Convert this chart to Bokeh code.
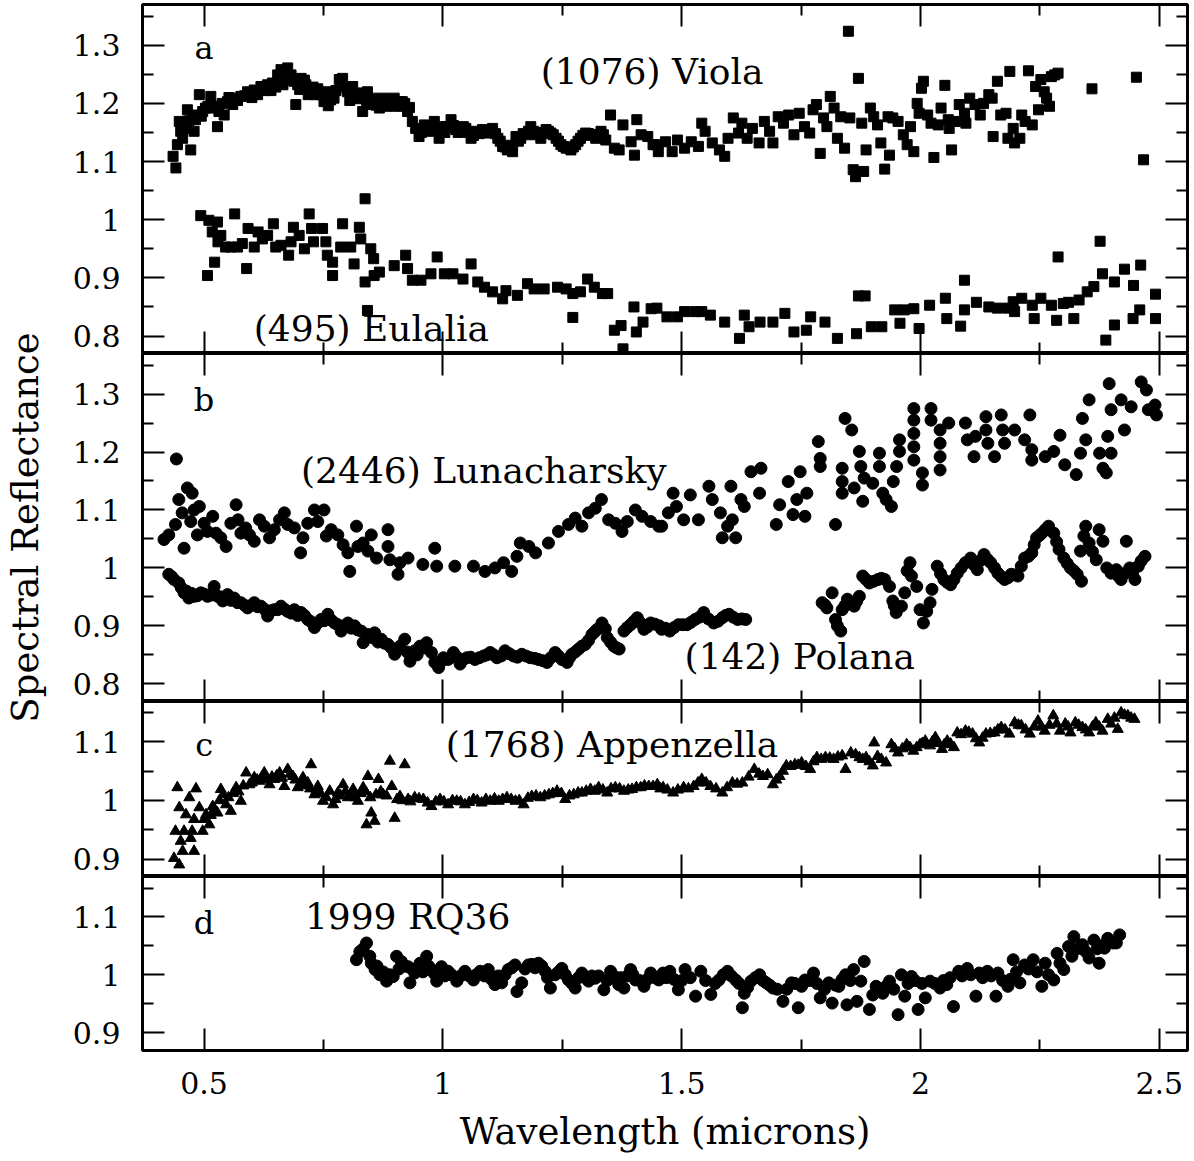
from bokeh.plotting import figure
from bokeh.layouts import column, row
from bokeh.models import Range1d, FixedTicker, LinearAxis, Label
from bokeh.embed import file_html
from bokeh.resources import INLINE

FONT = "DejaVu Serif"

# ---------------- data (wavelength in microns, spectral reflectance) ----------------
VIOLA = [
    (0.435, 1.109), (0.441, 1.089), (0.444, 1.129), (0.448, 1.169), (0.451, 1.152), (0.455, 1.140), (0.458, 1.165),
    (0.462, 1.157), (0.465, 1.189), (0.468, 1.170), (0.472, 1.120), (0.476, 1.175), (0.479, 1.152), (0.482, 1.172),
    (0.486, 1.180), (0.490, 1.215), (0.494, 1.178), (0.497, 1.186), (0.503, 1.192), (0.508, 1.195), (0.514, 1.212),
    (0.517, 1.192), (0.525, 1.195), (0.528, 1.160), (0.531, 1.186), (0.538, 1.200), (0.542, 1.180), (0.549, 1.203),
    (0.552, 1.210), (0.560, 1.198), (0.563, 1.209), (0.570, 1.205), (0.577, 1.212), (0.585, 1.213), (0.591, 1.220),
    (0.598, 1.218), (0.600, 1.210), (0.605, 1.223), (0.612, 1.215), (0.619, 1.229), (0.626, 1.222), (0.633, 1.232),
    (0.640, 1.222), (0.643, 1.235), (0.650, 1.228), (0.654, 1.249), (0.661, 1.258), (0.665, 1.232), (0.668, 1.241),
    (0.675, 1.261), (0.682, 1.249), (0.688, 1.238), (0.692, 1.198), (0.696, 1.232), (0.700, 1.224), (0.703, 1.243),
    (0.710, 1.240), (0.713, 1.232), (0.718, 1.215), (0.723, 1.223), (0.728, 1.228), (0.734, 1.215), (0.738, 1.225),
    (0.744, 1.215), (0.751, 1.203), (0.756, 1.220), (0.760, 1.196), (0.765, 1.206), (0.772, 1.209), (0.776, 1.222),
    (0.783, 1.241), (0.790, 1.243), (0.795, 1.228), (0.800, 1.220), (0.805, 1.205), (0.811, 1.229), (0.815, 1.210),
    (0.821, 1.218), (0.826, 1.208), (0.832, 1.186), (0.836, 1.212), (0.840, 1.205), (0.842, 1.220), (0.849, 1.198),
    (0.856, 1.209), (0.860, 1.197), (0.867, 1.192), (0.870, 1.202), (0.877, 1.209), (0.880, 1.195), (0.888, 1.198),
    (0.893, 1.205), (0.898, 1.209), (0.900, 1.195), (0.905, 1.196), (0.909, 1.203), (0.915, 1.203), (0.919, 1.195),
    (0.920, 1.200), (0.926, 1.186), (0.930, 1.193), (0.936, 1.169), (0.943, 1.157), (0.950, 1.143), (0.955, 1.150),
    (0.961, 1.163), (0.966, 1.160), (0.971, 1.155), (0.977, 1.152), (0.982, 1.169), (0.988, 1.155), (0.992, 1.140),
    (0.999, 1.160), (1.004, 1.150), (1.010, 1.160), (1.017, 1.172), (1.022, 1.162), (1.027, 1.155), (1.032, 1.150),
    (1.038, 1.152), (1.043, 1.160), (1.048, 1.157), (1.054, 1.150), (1.059, 1.140), (1.064, 1.145), (1.069, 1.152),
    (1.076, 1.148), (1.083, 1.155), (1.089, 1.152), (1.094, 1.149), (1.099, 1.150), (1.104, 1.157), (1.110, 1.148),
    (1.115, 1.140), (1.120, 1.135), (1.125, 1.126), (1.130, 1.125), (1.135, 1.120), (1.140, 1.128), (1.146, 1.117),
    (1.153, 1.143), (1.158, 1.135), (1.163, 1.140), (1.168, 1.148), (1.174, 1.146), (1.179, 1.152), (1.184, 1.160),
    (1.190, 1.152), (1.195, 1.146), (1.200, 1.150), (1.205, 1.140), (1.211, 1.148), (1.216, 1.155), (1.221, 1.152),
    (1.226, 1.149), (1.231, 1.146), (1.237, 1.140), (1.242, 1.135), (1.247, 1.129), (1.252, 1.126), (1.258, 1.123),
    (1.263, 1.125), (1.268, 1.120), (1.273, 1.125), (1.278, 1.129), (1.283, 1.135), (1.288, 1.140), (1.293, 1.145),
    (1.299, 1.149), (1.305, 1.148), (1.310, 1.146), (1.315, 1.145), (1.320, 1.140), (1.326, 1.146), (1.331, 1.152),
    (1.336, 1.146), (1.341, 1.137), (1.351, 1.180), (1.359, 1.123), (1.369, 1.120), (1.377, 1.163), (1.394, 1.134),
    (1.401, 1.111), (1.406, 1.172), (1.415, 1.146), (1.429, 1.143), (1.440, 1.129), (1.446, 1.129), (1.451, 1.117),
    (1.466, 1.134), (1.480, 1.117), (1.491, 1.137), (1.506, 1.123), (1.520, 1.134), (1.535, 1.126), (1.542, 1.166),
    (1.549, 1.152), (1.564, 1.132), (1.579, 1.120), (1.590, 1.109), (1.597, 1.140), (1.608, 1.175), (1.619, 1.149),
    (1.626, 1.166), (1.637, 1.140), (1.648, 1.157), (1.662, 1.132), (1.673, 1.169), (1.684, 1.152), (1.691, 1.132),
    (1.702, 1.177), (1.713, 1.166), (1.724, 1.180), (1.735, 1.146), (1.746, 1.183), (1.757, 1.160), (1.768, 1.149),
    (1.775, 1.189), (1.782, 1.198), (1.790, 1.114), (1.797, 1.175), (1.804, 1.160), (1.811, 1.212), (1.819, 1.192),
    (1.826, 1.140), (1.833, 1.177), (1.841, 1.123), (1.849, 1.324), (1.852, 1.175), (1.859, 1.086), (1.864, 1.074),
    (1.870, 1.243), (1.877, 1.166), (1.881, 1.083), (1.886, 1.120), (1.895, 1.192), (1.902, 1.177), (1.910, 1.163),
    (1.917, 1.132), (1.925, 1.087), (1.932, 1.177), (1.935, 1.111), (1.942, 1.175), (1.953, 1.169), (1.964, 1.146),
    (1.972, 1.129), (1.979, 1.160), (1.986, 1.117), (1.993, 1.200), (1.997, 1.183), (2.002, 1.226), (2.006, 1.238),
    (2.015, 1.180), (2.022, 1.166), (2.028, 1.107), (2.037, 1.163), (2.043, 1.192), (2.051, 1.231), (2.058, 1.172),
    (2.060, 1.157), (2.065, 1.120), (2.073, 1.169), (2.081, 1.198), (2.092, 1.183), (2.095, 1.166), (2.103, 1.209),
    (2.114, 1.198), (2.125, 1.180), (2.132, 1.200), (2.143, 1.215), (2.150, 1.209), (2.152, 1.143), (2.161, 1.238),
    (2.168, 1.180), (2.179, 1.183), (2.183, 1.140), (2.187, 1.255), (2.194, 1.157), (2.197, 1.132), (2.208, 1.140),
    (2.212, 1.180), (2.219, 1.169), (2.226, 1.256), (2.234, 1.163), (2.241, 1.229), (2.247, 1.189), (2.252, 1.241),
    (2.259, 1.220), (2.264, 1.209), (2.270, 1.195), (2.274, 1.246), (2.281, 1.249), (2.288, 1.252), (2.359, 1.225),
    (2.452, 1.245), (2.467, 1.103),
]

EULALIA = [
    (0.493, 1.007), (0.507, 0.904), (0.510, 0.999), (0.517, 0.979), (0.522, 0.927), (0.528, 0.996), (0.529, 0.962),
    (0.535, 0.973), (0.545, 0.953), (0.556, 0.953), (0.564, 1.010), (0.570, 0.953), (0.580, 0.959), (0.589, 0.916),
    (0.592, 0.985), (0.605, 0.953), (0.613, 0.979), (0.622, 0.967), (0.633, 0.973), (0.645, 0.993), (0.650, 0.953),
    (0.661, 0.956), (0.677, 0.939), (0.682, 0.962), (0.687, 0.987), (0.699, 0.973), (0.710, 0.950), (0.720, 1.010),
    (0.725, 0.985), (0.729, 0.962), (0.748, 0.985), (0.755, 0.962), (0.758, 0.939), (0.769, 0.927), (0.769, 0.904),
    (0.786, 0.953), (0.790, 0.993), (0.807, 0.953), (0.814, 0.924), (0.825, 0.987), (0.828, 0.967), (0.837, 1.036),
    (0.837, 0.893), (0.842, 0.844), (0.849, 0.950), (0.855, 0.933), (0.856, 0.904), (0.867, 0.910), (0.898, 0.921),
    (0.922, 0.939), (0.926, 0.916), (0.936, 0.896), (0.954, 0.896), (0.975, 0.907), (0.988, 0.936), (1.003, 0.907),
    (1.021, 0.907), (1.042, 0.898), (1.059, 0.924), (1.073, 0.893), (1.087, 0.884), (1.104, 0.876), (1.125, 0.864),
    (1.132, 0.878), (1.156, 0.870), (1.177, 0.890), (1.191, 0.881), (1.212, 0.881), (1.240, 0.884), (1.258, 0.881),
    (1.272, 0.873), (1.272, 0.832), (1.288, 0.876), (1.303, 0.898), (1.317, 0.884), (1.334, 0.873), (1.345, 0.873),
    (1.359, 0.810), (1.373, 0.818), (1.377, 0.778), (1.400, 0.850), (1.405, 0.807), (1.419, 0.824), (1.436, 0.847),
    (1.448, 0.848), (1.469, 0.833), (1.491, 0.833), (1.506, 0.842), (1.528, 0.842), (1.542, 0.842), (1.560, 0.836),
    (1.590, 0.824), (1.621, 0.796), (1.631, 0.836), (1.641, 0.816), (1.664, 0.824), (1.691, 0.824), (1.716, 0.839),
    (1.735, 0.807), (1.761, 0.810), (1.770, 0.833), (1.800, 0.824), (1.826, 0.796), (1.866, 0.804), (1.870, 0.869),
    (1.884, 0.869), (1.897, 0.816), (1.919, 0.816), (1.946, 0.845), (1.957, 0.822), (1.966, 0.845), (1.986, 0.847),
    (1.997, 0.813), (2.019, 0.853), (2.052, 0.865), (2.055, 0.830), (2.084, 0.817), (2.092, 0.845), (2.092, 0.896),
    (2.117, 0.858), (2.143, 0.850), (2.161, 0.848), (2.183, 0.848), (2.194, 0.859), (2.197, 0.842), (2.212, 0.865),
    (2.234, 0.853), (2.238, 0.830), (2.252, 0.865), (2.274, 0.853), (2.285, 0.827), (2.288, 0.936), (2.299, 0.856),
    (2.310, 0.858), (2.321, 0.830), (2.332, 0.862), (2.349, 0.876), (2.363, 0.885), (2.376, 0.963), (2.381, 0.907),
    (2.388, 0.793), (2.406, 0.893), (2.406, 0.819), (2.427, 0.915), (2.445, 0.830), (2.446, 0.887), (2.459, 0.845),
    (2.461, 0.922), (2.492, 0.872), (2.492, 0.830),
]

LUNACHARSKY = [
    (0.416, 1.049), (0.426, 1.057), (0.440, 1.075), (0.442, 1.188), (0.447, 1.118), (0.454, 1.095), (0.458, 1.034),
    (0.465, 1.138), (0.472, 1.080), (0.475, 1.129), (0.479, 1.100), (0.486, 1.057), (0.490, 1.106), (0.500, 1.077),
    (0.507, 1.063), (0.518, 1.089), (0.525, 1.060), (0.535, 1.052), (0.546, 1.037), (0.556, 1.077), (0.567, 1.109),
    (0.571, 1.083), (0.577, 1.060), (0.587, 1.069), (0.595, 1.057), (0.605, 1.046), (0.616, 1.083), (0.626, 1.072),
    (0.637, 1.052), (0.647, 1.066), (0.658, 1.083), (0.668, 1.095), (0.675, 1.075), (0.689, 1.069), (0.702, 1.026),
    (0.707, 1.052), (0.717, 1.077), (0.731, 1.100), (0.738, 1.080), (0.751, 1.100), (0.756, 1.055), (0.766, 1.066),
    (0.780, 1.057), (0.791, 1.040), (0.801, 1.026), (0.805, 0.994), (0.819, 1.072), (0.822, 1.037), (0.833, 1.043),
    (0.843, 1.029), (0.850, 1.057), (0.861, 1.017), (0.885, 1.066), (0.885, 1.037), (0.889, 1.014), (0.906, 0.989),
    (0.910, 1.009), (0.927, 1.017), (0.958, 1.006), (0.983, 1.034), (0.987, 1.003), (1.025, 1.003), (1.064, 1.003),
    (1.088, 0.994), (1.109, 1.000), (1.127, 1.009), (1.144, 0.994), (1.155, 1.020), (1.162, 1.043), (1.180, 1.037),
    (1.194, 1.026), (1.221, 1.043), (1.242, 1.063), (1.263, 1.075), (1.277, 1.086), (1.291, 1.072), (1.305, 1.095),
    (1.319, 1.103), (1.332, 1.118), (1.347, 1.083), (1.361, 1.077), (1.375, 1.063), (1.386, 1.080), (1.403, 1.100),
    (1.417, 1.089), (1.435, 1.080), (1.452, 1.072), (1.458, 1.072), (1.472, 1.095), (1.482, 1.129), (1.489, 1.106),
    (1.504, 1.083), (1.518, 1.126), (1.535, 1.083), (1.557, 1.141), (1.564, 1.118), (1.581, 1.095), (1.585, 1.052),
    (1.596, 1.072), (1.603, 1.141), (1.606, 1.083), (1.613, 1.052), (1.624, 1.118), (1.631, 1.106), (1.645, 1.166),
    (1.663, 1.129), (1.666, 1.172), (1.698, 1.075), (1.705, 1.109), (1.723, 1.149), (1.733, 1.092), (1.741, 1.118),
    (1.748, 1.166), (1.758, 1.089), (1.762, 1.129), (1.786, 1.218), (1.790, 1.189), (1.790, 1.175), (1.822, 1.075),
    (1.836, 1.172), (1.836, 1.149), (1.836, 1.129), (1.842, 1.258), (1.856, 1.238), (1.861, 1.138), (1.872, 1.201),
    (1.875, 1.175), (1.879, 1.115), (1.882, 1.155), (1.900, 1.146), (1.914, 1.198), (1.914, 1.175), (1.921, 1.129),
    (1.928, 1.118), (1.939, 1.106), (1.943, 1.149), (1.950, 1.175), (1.956, 1.221), (1.956, 1.201), (1.986, 1.275),
    (1.986, 1.255), (1.986, 1.232), (1.986, 1.209), (1.986, 1.186), (2.004, 1.164), (2.004, 1.143), (2.022, 1.275),
    (2.022, 1.255), (2.041, 1.238), (2.041, 1.215), (2.041, 1.192), (2.041, 1.169), (2.059, 1.250), (2.094, 1.250),
    (2.098, 1.221), (2.112, 1.192), (2.115, 1.227), (2.137, 1.261), (2.137, 1.238), (2.141, 1.215), (2.155, 1.192),
    (2.169, 1.264), (2.172, 1.238), (2.176, 1.215), (2.197, 1.238), (2.218, 1.221), (2.229, 1.264), (2.233, 1.204),
    (2.233, 1.186), (2.261, 1.192), (2.279, 1.201), (2.292, 1.229), (2.302, 1.178), (2.326, 1.161), (2.335, 1.198),
    (2.339, 1.258), (2.346, 1.221), (2.353, 1.290), (2.375, 1.198), (2.382, 1.172), (2.389, 1.164), (2.392, 1.227),
    (2.395, 1.318), (2.399, 1.273), (2.399, 1.198), (2.420, 1.290), (2.427, 1.238), (2.441, 1.278), (2.462, 1.321),
    (2.473, 1.307), (2.477, 1.273), (2.491, 1.281), (2.494, 1.264),
]

POLANA = [
    (0.426, 0.989), (0.432, 0.985), (0.437, 0.980), (0.447, 0.974), (0.452, 0.966), (0.458, 0.957), (0.463, 0.960),
    (0.468, 0.948), (0.474, 0.956), (0.479, 0.951), (0.486, 0.952), (0.493, 0.957), (0.500, 0.955), (0.507, 0.951),
    (0.514, 0.953), (0.521, 0.968), (0.528, 0.951), (0.535, 0.950), (0.539, 0.943), (0.549, 0.954), (0.556, 0.944),
    (0.563, 0.948), (0.570, 0.940), (0.577, 0.940), (0.584, 0.936), (0.591, 0.931), (0.598, 0.935), (0.605, 0.940),
    (0.612, 0.933), (0.619, 0.934), (0.626, 0.929), (0.633, 0.917), (0.640, 0.926), (0.647, 0.928), (0.654, 0.928),
    (0.661, 0.934), (0.668, 0.929), (0.675, 0.925), (0.682, 0.922), (0.689, 0.928), (0.696, 0.918), (0.703, 0.923),
    (0.710, 0.918), (0.717, 0.911), (0.724, 0.907), (0.731, 0.897), (0.738, 0.905), (0.745, 0.911), (0.752, 0.909),
    (0.759, 0.920), (0.766, 0.910), (0.773, 0.905), (0.780, 0.902), (0.787, 0.891), (0.794, 0.900), (0.801, 0.905),
    (0.808, 0.896), (0.815, 0.900), (0.822, 0.893), (0.829, 0.891), (0.833, 0.871), (0.843, 0.885), (0.850, 0.880),
    (0.857, 0.888), (0.864, 0.872), (0.871, 0.877), (0.878, 0.870), (0.885, 0.868), (0.892, 0.862), (0.899, 0.851),
    (0.905, 0.858), (0.910, 0.865), (0.920, 0.877), (0.925, 0.855), (0.931, 0.839), (0.941, 0.857), (0.946, 0.850),
    (0.952, 0.865), (0.960, 0.862), (0.966, 0.871), (0.976, 0.854), (0.983, 0.837), (0.991, 0.828), (0.996, 0.838),
    (1.001, 0.845), (1.011, 0.842), (1.016, 0.845), (1.022, 0.854), (1.030, 0.846), (1.036, 0.834), (1.043, 0.842),
    (1.050, 0.845), (1.058, 0.846), (1.067, 0.842), (1.076, 0.845), (1.085, 0.848), (1.092, 0.850), (1.099, 0.854),
    (1.106, 0.850), (1.113, 0.845), (1.122, 0.848), (1.130, 0.857), (1.139, 0.852), (1.148, 0.848), (1.156, 0.846),
    (1.165, 0.851), (1.174, 0.848), (1.183, 0.845), (1.192, 0.844), (1.200, 0.842), (1.209, 0.840), (1.218, 0.837),
    (1.226, 0.845), (1.235, 0.854), (1.242, 0.848), (1.249, 0.842), (1.260, 0.837), (1.265, 0.845), (1.270, 0.851),
    (1.277, 0.855), (1.284, 0.860), (1.291, 0.865), (1.298, 0.868), (1.305, 0.875), (1.312, 0.885), (1.318, 0.890),
    (1.323, 0.894), (1.333, 0.905), (1.340, 0.895), (1.344, 0.880), (1.351, 0.872), (1.358, 0.865), (1.364, 0.862),
    (1.369, 0.860), (1.379, 0.891), (1.386, 0.897), (1.393, 0.902), (1.400, 0.908), (1.407, 0.914), (1.414, 0.905),
    (1.421, 0.894), (1.428, 0.898), (1.435, 0.905), (1.444, 0.903), (1.453, 0.900), (1.458, 0.894), (1.466, 0.896),
    (1.475, 0.891), (1.484, 0.897), (1.493, 0.902), (1.502, 0.902), (1.511, 0.902), (1.519, 0.906), (1.528, 0.911),
    (1.537, 0.915), (1.546, 0.923), (1.556, 0.912), (1.567, 0.905), (1.576, 0.908), (1.585, 0.914), (1.592, 0.918),
    (1.599, 0.920), (1.608, 0.915), (1.617, 0.911), (1.626, 0.912), (1.634, 0.911),
    (1.794, 0.940), (1.800, 0.936), (1.804, 0.931), (1.815, 0.957), (1.822, 0.911), (1.826, 0.900), (1.833, 0.891),
    (1.836, 0.928), (1.842, 0.935), (1.847, 0.946), (1.861, 0.934), (1.866, 0.942), (1.872, 0.951), (1.879, 0.986),
    (1.886, 0.980), (1.893, 0.974), (1.902, 0.977), (1.911, 0.980), (1.918, 0.982), (1.925, 0.980), (1.935, 0.968),
    (1.942, 0.943), (1.945, 0.935), (1.949, 0.923), (1.960, 0.934), (1.967, 0.957), (1.972, 0.995), (1.978, 1.009),
    (1.981, 0.986), (1.992, 0.968), (1.999, 0.928), (2.006, 0.905), (2.013, 0.925), (2.020, 0.940), (2.024, 0.963),
    (2.035, 1.003), (2.042, 0.990), (2.049, 0.980), (2.056, 0.975), (2.063, 0.971), (2.070, 0.980), (2.077, 0.991),
    (2.085, 1.000), (2.094, 1.009), (2.105, 1.017), (2.112, 1.005), (2.119, 0.997), (2.126, 1.013), (2.133, 1.023),
    (2.140, 1.015), (2.147, 1.009), (2.155, 1.000), (2.162, 0.991), (2.169, 0.985), (2.176, 0.980), (2.183, 0.983),
    (2.190, 0.989), (2.197, 0.988), (2.204, 0.986), (2.211, 1.003), (2.218, 1.017), (2.226, 1.020), (2.233, 1.026),
    (2.238, 1.040), (2.243, 1.052), (2.249, 1.056), (2.254, 1.060), (2.261, 1.066), (2.268, 1.072), (2.279, 1.060),
    (2.285, 1.045), (2.290, 1.032), (2.300, 1.017), (2.307, 1.008), (2.314, 1.000), (2.321, 0.995), (2.328, 0.989),
    (2.337, 0.977), (2.335, 1.029), (2.342, 1.055), (2.346, 1.072), (2.353, 1.043), (2.360, 1.028), (2.368, 1.014),
    (2.374, 1.066), (2.382, 1.046), (2.390, 1.000), (2.399, 0.991), (2.404, 0.994), (2.410, 0.997), (2.415, 0.985),
    (2.420, 0.980), (2.426, 0.990), (2.431, 1.046), (2.438, 1.000), (2.444, 0.990), (2.449, 0.980), (2.456, 1.003),
    (2.462, 1.012), (2.470, 1.020),
]

APPENZELLA = [
    (0.437, 0.902), (0.448, 0.891), (0.440, 0.948), (0.444, 1.022), (0.448, 0.988), (0.451, 0.931), (0.455, 0.914),
    (0.458, 0.948), (0.462, 0.976), (0.469, 1.005), (0.472, 0.936), (0.475, 0.948), (0.479, 0.914), (0.479, 0.968),
    (0.483, 1.020), (0.490, 0.988), (0.497, 0.948), (0.500, 0.968), (0.504, 0.976), (0.511, 0.959), (0.514, 0.975),
    (0.518, 0.990), (0.522, 0.985), (0.528, 0.979), (0.532, 1.000), (0.535, 1.019), (0.540, 1.010), (0.546, 0.993),
    (0.551, 1.005), (0.556, 0.982), (0.561, 1.012), (0.567, 1.022), (0.572, 1.015), (0.577, 0.999), (0.582, 1.025),
    (0.588, 1.047), (0.595, 1.027), (0.600, 1.030), (0.605, 1.039), (0.611, 1.035), (0.616, 1.033), (0.621, 1.040),
    (0.626, 1.047), (0.631, 1.035), (0.637, 1.027), (0.642, 1.040), (0.647, 1.036), (0.652, 1.042), (0.658, 1.047),
    (0.663, 1.038), (0.668, 1.024), (0.675, 1.053), (0.680, 1.045), (0.686, 1.041), (0.691, 1.035), (0.696, 1.022),
    (0.702, 1.030), (0.707, 1.039), (0.712, 1.025), (0.717, 1.030), (0.722, 1.020), (0.724, 1.061), (0.731, 1.010),
    (0.734, 1.015), (0.738, 1.024), (0.744, 1.012), (0.749, 0.999), (0.756, 1.005), (0.763, 1.016), (0.770, 0.993),
    (0.775, 1.002), (0.780, 1.013), (0.786, 1.008), (0.791, 1.027), (0.796, 1.015), (0.801, 1.005), (0.806, 1.010),
    (0.812, 1.019), (0.817, 1.005), (0.822, 0.999), (0.828, 1.012), (0.833, 1.022), (0.838, 1.015), (0.840, 0.959),
    (0.843, 1.041), (0.848, 1.005), (0.850, 0.979), (0.857, 0.965), (0.860, 1.010), (0.865, 1.036), (0.870, 1.015),
    (0.875, 1.010), (0.882, 1.008), (0.889, 1.067), (0.893, 1.024), (0.899, 0.970), (0.904, 1.002), (0.910, 1.007),
    (0.915, 1.000), (0.920, 1.061), (0.927, 1.002), (0.932, 0.998), (0.941, 1.005), (0.950, 1.003), (0.959, 1.002),
    (0.968, 0.996), (0.976, 0.990), (0.985, 0.998), (0.994, 1.002), (1.002, 0.998), (1.011, 0.993), (1.020, 1.000),
    (1.029, 0.999), (1.037, 0.998), (1.046, 0.993), (1.055, 0.997), (1.064, 1.002), (1.072, 1.000), (1.081, 0.996),
    (1.090, 1.002), (1.099, 0.999), (1.108, 1.003), (1.117, 0.999), (1.125, 1.002), (1.134, 1.005), (1.143, 1.002),
    (1.152, 0.999), (1.160, 1.000), (1.169, 0.993), (1.178, 1.004), (1.186, 1.007), (1.195, 1.008), (1.204, 1.005),
    (1.213, 1.008), (1.222, 1.010), (1.230, 1.012), (1.239, 1.016), (1.248, 1.012), (1.256, 1.002), (1.265, 1.008),
    (1.274, 1.010), (1.283, 1.013), (1.291, 1.013), (1.300, 1.016), (1.309, 1.019), (1.318, 1.016), (1.326, 1.022),
    (1.335, 1.018), (1.344, 1.013), (1.352, 1.020), (1.361, 1.022), (1.370, 1.020), (1.379, 1.016), (1.388, 1.018),
    (1.396, 1.019), (1.405, 1.022), (1.414, 1.022), (1.422, 1.025), (1.431, 1.024), (1.440, 1.024), (1.449, 1.027),
    (1.455, 1.020), (1.461, 1.022), (1.470, 1.018), (1.482, 1.013), (1.492, 1.018), (1.504, 1.022), (1.514, 1.020),
    (1.525, 1.024), (1.534, 1.030), (1.542, 1.036), (1.551, 1.030), (1.560, 1.024), (1.572, 1.020), (1.585, 1.013),
    (1.595, 1.022), (1.606, 1.030), (1.616, 1.028), (1.627, 1.030), (1.640, 1.040), (1.652, 1.053), (1.662, 1.045),
    (1.670, 1.041), (1.680, 1.044), (1.691, 1.027), (1.698, 1.035), (1.705, 1.041), (1.712, 1.050), (1.719, 1.059),
    (1.728, 1.058), (1.737, 1.061), (1.744, 1.060), (1.751, 1.064), (1.760, 1.058), (1.769, 1.053), (1.776, 1.066),
    (1.783, 1.073), (1.792, 1.070), (1.801, 1.073), (1.810, 1.072), (1.818, 1.070), (1.827, 1.074), (1.836, 1.076),
    (1.843, 1.053), (1.854, 1.081), (1.864, 1.078), (1.872, 1.073), (1.879, 1.070), (1.886, 1.073), (1.893, 1.066),
    (1.900, 1.059), (1.903, 1.098), (1.910, 1.075), (1.918, 1.070), (1.928, 1.064), (1.939, 1.095), (1.946, 1.088),
    (1.953, 1.081), (1.962, 1.088), (1.971, 1.095), (1.978, 1.090), (1.985, 1.084), (1.992, 1.090), (1.999, 1.095),
    (2.004, 1.097), (2.010, 1.101), (2.020, 1.093), (2.025, 1.100), (2.031, 1.107), (2.038, 1.097), (2.045, 1.087),
    (2.050, 1.095), (2.056, 1.101), (2.063, 1.096), (2.070, 1.090), (2.077, 1.115), (2.085, 1.112), (2.094, 1.118),
    (2.101, 1.116), (2.109, 1.113), (2.116, 1.105), (2.123, 1.098), (2.130, 1.106), (2.137, 1.113), (2.146, 1.114),
    (2.155, 1.115), (2.162, 1.120), (2.169, 1.124), (2.177, 1.120), (2.186, 1.113), (2.197, 1.132), (2.205, 1.128),
    (2.211, 1.127), (2.220, 1.120), (2.229, 1.113), (2.238, 1.125), (2.246, 1.135), (2.253, 1.125), (2.260, 1.118),
    (2.270, 1.128), (2.278, 1.144), (2.285, 1.130), (2.292, 1.118), (2.303, 1.130), (2.309, 1.125), (2.314, 1.115),
    (2.324, 1.132), (2.331, 1.128), (2.339, 1.124), (2.346, 1.120), (2.353, 1.115), (2.360, 1.125), (2.367, 1.132),
    (2.374, 1.125), (2.381, 1.118), (2.392, 1.138), (2.399, 1.130), (2.406, 1.140), (2.413, 1.121), (2.420, 1.149),
    (2.427, 1.145), (2.434, 1.144), (2.441, 1.140), (2.448, 1.138),
]

RQ36 = [
    (0.819, 1.026), (0.826, 1.040), (0.833, 1.045), (0.840, 1.055), (0.847, 1.032), (0.850, 1.020), (0.858, 1.009),
    (0.862, 1.015), (0.868, 1.000), (0.875, 1.005), (0.882, 0.989), (0.889, 1.000), (0.896, 0.997), (0.903, 1.032),
    (0.908, 1.010), (0.913, 1.023), (0.920, 1.015), (0.927, 1.014), (0.931, 0.986), (0.935, 1.010), (0.941, 1.003),
    (0.946, 1.008), (0.952, 1.020), (0.958, 1.005), (0.966, 1.032), (0.970, 1.015), (0.976, 1.009), (0.982, 1.002),
    (0.987, 0.989), (0.992, 1.000), (0.997, 1.014), (1.004, 0.998), (1.011, 1.006), (1.018, 1.000), (1.029, 0.989),
    (1.037, 0.998), (1.046, 1.006), (1.055, 0.998), (1.064, 0.991), (1.070, 1.000), (1.078, 1.006), (1.087, 0.998),
    (1.095, 1.009), (1.102, 0.992), (1.109, 0.983), (1.116, 0.998), (1.123, 0.986), (1.130, 1.000), (1.137, 1.009),
    (1.144, 1.012), (1.151, 1.017), (1.155, 0.971), (1.165, 0.986), (1.172, 1.010), (1.179, 1.017), (1.186, 1.018),
    (1.193, 1.012), (1.200, 1.020), (1.207, 1.015), (1.214, 1.006), (1.219, 0.995), (1.225, 0.977), (1.235, 1.000),
    (1.242, 1.005), (1.249, 1.011), (1.256, 1.000), (1.263, 0.991), (1.270, 0.985), (1.277, 0.977), (1.284, 0.995),
    (1.291, 1.003), (1.298, 0.995), (1.305, 0.989), (1.312, 0.998), (1.319, 0.994), (1.326, 0.998), (1.337, 0.974),
    (1.344, 0.990), (1.351, 1.006), (1.358, 0.998), (1.368, 0.983), (1.372, 0.995), (1.379, 0.977), (1.386, 0.998),
    (1.393, 1.009), (1.398, 1.000), (1.403, 0.991), (1.412, 0.990), (1.421, 0.980), (1.428, 0.992), (1.435, 1.003),
    (1.444, 0.995), (1.452, 0.991), (1.461, 1.003), (1.468, 0.995), (1.475, 1.006), (1.484, 0.992), (1.493, 0.974),
    (1.500, 0.990), (1.507, 1.009), (1.518, 0.995), (1.529, 0.963), (1.540, 1.006), (1.550, 0.990), (1.561, 0.966),
    (1.570, 0.985), (1.578, 0.991), (1.587, 1.000), (1.596, 1.006), (1.604, 0.998), (1.613, 0.991), (1.620, 0.985),
    (1.627, 0.943), (1.631, 0.968), (1.638, 0.978), (1.645, 0.989), (1.654, 0.995), (1.663, 1.000), (1.670, 0.990),
    (1.677, 0.986), (1.684, 0.982), (1.691, 0.977), (1.700, 0.975), (1.712, 0.954), (1.720, 0.975), (1.730, 0.986),
    (1.737, 0.985), (1.744, 0.943), (1.751, 0.980), (1.758, 0.991), (1.767, 0.990), (1.776, 1.003), (1.783, 0.985),
    (1.790, 0.960), (1.799, 0.975), (1.808, 0.986), (1.815, 0.951), (1.822, 0.982), (1.829, 0.980), (1.836, 0.992),
    (1.843, 1.000), (1.846, 0.948), (1.853, 0.990), (1.860, 1.009), (1.867, 0.954), (1.875, 0.989), (1.882, 1.023),
    (1.893, 0.940), (1.900, 0.965), (1.907, 0.980), (1.914, 0.975), (1.921, 0.968), (1.928, 0.980), (1.935, 0.989),
    (1.944, 0.975), (1.953, 0.931), (1.960, 1.000), (1.967, 0.963), (1.974, 0.985), (1.981, 0.997), (1.988, 0.990),
    (1.995, 0.940), (2.003, 0.985), (2.010, 0.960), (2.020, 0.989), (2.030, 0.985), (2.041, 0.977), (2.048, 0.990),
    (2.055, 0.983), (2.062, 0.995), (2.069, 0.945), (2.080, 1.006), (2.087, 0.998), (2.098, 1.011), (2.105, 1.000),
    (2.116, 0.963), (2.123, 1.003), (2.130, 0.995), (2.140, 1.006), (2.148, 0.998), (2.158, 0.963), (2.162, 1.003),
    (2.172, 0.990), (2.183, 0.980), (2.188, 0.992), (2.194, 1.026), (2.201, 1.005), (2.208, 0.986), (2.218, 1.017),
    (2.226, 1.010), (2.236, 1.026), (2.244, 1.005), (2.254, 0.980), (2.261, 1.020), (2.268, 1.000), (2.279, 0.991),
    (2.286, 1.037), (2.292, 1.020), (2.300, 1.009), (2.310, 1.049), (2.317, 1.032), (2.321, 1.066), (2.328, 1.045),
    (2.339, 1.052), (2.346, 1.040), (2.353, 1.029), (2.363, 1.060), (2.370, 1.045), (2.374, 1.020), (2.378, 1.050),
    (2.385, 1.046), (2.392, 1.063), (2.403, 1.055), (2.410, 1.055), (2.417, 1.069),
]

# ---------------- axes / ticks ----------------
X_RANGE = (0.371, 2.559)
X_MAJOR = [0.5, 1.0, 1.5, 2.0, 2.5]
X_MINOR = [0.75, 1.25, 1.75, 2.25]
X_LABELS = {0.5: "0.5", 1.0: "1", 1.5: "1.5", 2.0: "2", 2.5: "2.5"}

Y_MAJOR_AB = [0.8, 0.9, 1.0, 1.1, 1.2, 1.3]
Y_MINOR_AB = [0.85, 0.95, 1.05, 1.15, 1.25, 1.35]
Y_LABELS_AB = {0.8: "0.8", 0.9: "0.9", 1.0: "1", 1.1: "1.1", 1.2: "1.2", 1.3: "1.3"}
Y_MAJOR_CD = [0.9, 1.0, 1.1]
Y_MINOR_CD = [0.95, 1.05, 1.15]
Y_LABELS_CD = {0.9: "0.9", 1.0: "1", 1.1: "1.1"}

TITLE_W = 50
W = 1189 - TITLE_W
LEFT = 142 - TITLE_W
TOP = 4
BOTTOM = 108
H_A, H_B, H_C, H_D = 349, 348, 175, 174
TOTAL_H = TOP + H_A + H_B + H_C + H_D + BOTTOM


def style_axis(ax, major, minor, overrides=None, show_labels=False):
    ax.ticker = FixedTicker(ticks=major, minor_ticks=minor)
    ax.axis_line_color = None
    ax.major_tick_in = 22
    ax.major_tick_out = 0
    ax.minor_tick_in = 11
    ax.minor_tick_out = 0
    ax.major_tick_line_width = 2
    ax.minor_tick_line_width = 2
    ax.major_tick_line_color = "black"
    ax.minor_tick_line_color = "black"
    if show_labels:
        ax.major_label_overrides = overrides
        ax.major_label_text_font = FONT
        ax.major_label_text_font_size = "30px"
        ax.major_label_text_color = "black"
        ax.major_label_standoff = 22
    else:
        ax.major_label_text_font_size = "0px"
        ax.major_label_text_alpha = 0
        ax.major_label_standoff = 0


def panel(height, yr, ymaj, ymin, ylab, top=0, bottom=0, x_labels=False):
    p = figure(width=W, height=height, x_range=Range1d(*X_RANGE), y_range=Range1d(*yr),
               toolbar_location=None, output_backend="svg",
               x_axis_location=None, y_axis_location=None,
               min_border_left=LEFT, min_border_right=2,
               min_border_top=top, min_border_bottom=bottom)
    p.grid.visible = False
    p.outline_line_color = "black"
    p.outline_line_width = 3
    p.outline_line_alpha = 1.0
    p.background_fill_color = "white"
    p.border_fill_color = "white"

    left = LinearAxis()
    style_axis(left, ymaj, ymin, ylab, show_labels=True)
    p.add_layout(left, "left")

    right = LinearAxis()
    style_axis(right, ymaj, ymin)
    p.add_layout(right, "right")

    above = LinearAxis()
    style_axis(above, X_MAJOR, X_MINOR)
    p.add_layout(above, "above")

    below = LinearAxis()
    if x_labels:
        style_axis(below, X_MAJOR, X_MINOR, X_LABELS, show_labels=True)
        below.major_label_standoff = 21
        below.axis_label = "Wavelength (microns)"
        below.axis_label_text_font = FONT
        below.axis_label_text_font_size = "37px"
        below.axis_label_text_font_style = "normal"
        below.axis_label_text_color = "black"
        below.axis_label_standoff = 13
    else:
        style_axis(below, X_MAJOR, X_MINOR)
    p.add_layout(below, "below")
    return p


def txt(p, x, y, s, align="left", size="36px"):
    p.add_layout(Label(x=x, y=y, text=s, text_font=FONT, text_font_size=size,
                       text_align=align, text_baseline="alphabetic", text_color="black"))


def xs(pts):
    return [a for a, _ in pts]


def ys(pts):
    return [b for _, b in pts]


# panel a
pa = panel(TOP + H_A, (0.770, 1.370), Y_MAJOR_AB, Y_MINOR_AB, Y_LABELS_AB, top=TOP)
pa.scatter(xs(VIOLA), ys(VIOLA), marker="square", size=10, color="black")
pa.scatter(xs(EULALIA), ys(EULALIA), marker="square", size=10, color="black")
txt(pa, 0.5, 1.296, "a", align="center", size="32px")
txt(pa, 1.205, 1.2545, "(1076) Viola")
txt(pa, 0.604, 0.8125, "(495) Eulalia")

# panel b
pb = panel(H_B, (0.7695, 1.370), Y_MAJOR_AB, Y_MINOR_AB, Y_LABELS_AB)
pb.scatter(xs(LUNACHARSKY), ys(LUNACHARSKY), marker="circle", size=12, color="black")
pb.scatter(xs(POLANA), ys(POLANA), marker="circle", size=12, color="black")
txt(pb, 0.5, 1.289, "b", align="center", size="32px")
txt(pb, 0.703, 1.1675, "(2446) Lunacharsky")
txt(pb, 1.506, 0.8475, "(142) Polana")

# panel c
pc = panel(H_C, (0.871, 1.168), Y_MAJOR_CD, Y_MINOR_CD, Y_LABELS_CD)
pc.scatter(xs(APPENZELLA), ys(APPENZELLA), marker="triangle", size=11, color="black")
txt(pc, 0.5, 1.094, "c", align="center", size="32px")
txt(pc, 1.006, 1.095, "(1768) Appenzella")

# panel d
pd_ = panel(H_D + BOTTOM, (0.869, 1.170), Y_MAJOR_CD, Y_MINOR_CD, Y_LABELS_CD, bottom=BOTTOM, x_labels=True)
pd_.scatter(xs(RQ36), ys(RQ36), marker="circle", size=12, color="black")
txt(pd_, 0.5, 1.089, "d", align="center", size="32px")
txt(pd_, 0.711, 1.100, "1999 RQ36")

# shared y-axis title in its own narrow strip
pt = figure(width=TITLE_W, height=TOTAL_H, x_range=Range1d(0, 1), y_range=Range1d(0, 1),
            toolbar_location=None, output_backend="svg",
            x_axis_location=None, y_axis_location=None,
            min_border=0, min_border_left=0, min_border_right=0, min_border_top=0, min_border_bottom=0)
pt.grid.visible = False
pt.outline_line_color = None
pt.background_fill_color = "white"
pt.border_fill_color = "white"
pt.add_layout(Label(x=0.5, y=1 - 527.0 / TOTAL_H, text="Spectral Reflectance", text_font=FONT,
                    text_font_size="37px", text_align="center", text_baseline="middle",
                    angle=90, angle_units="deg", text_color="black"))

layout = row(pt, column(pa, pb, pc, pd_, spacing=0), spacing=0)
open("out.html", "w").write(file_html(layout, INLINE))
